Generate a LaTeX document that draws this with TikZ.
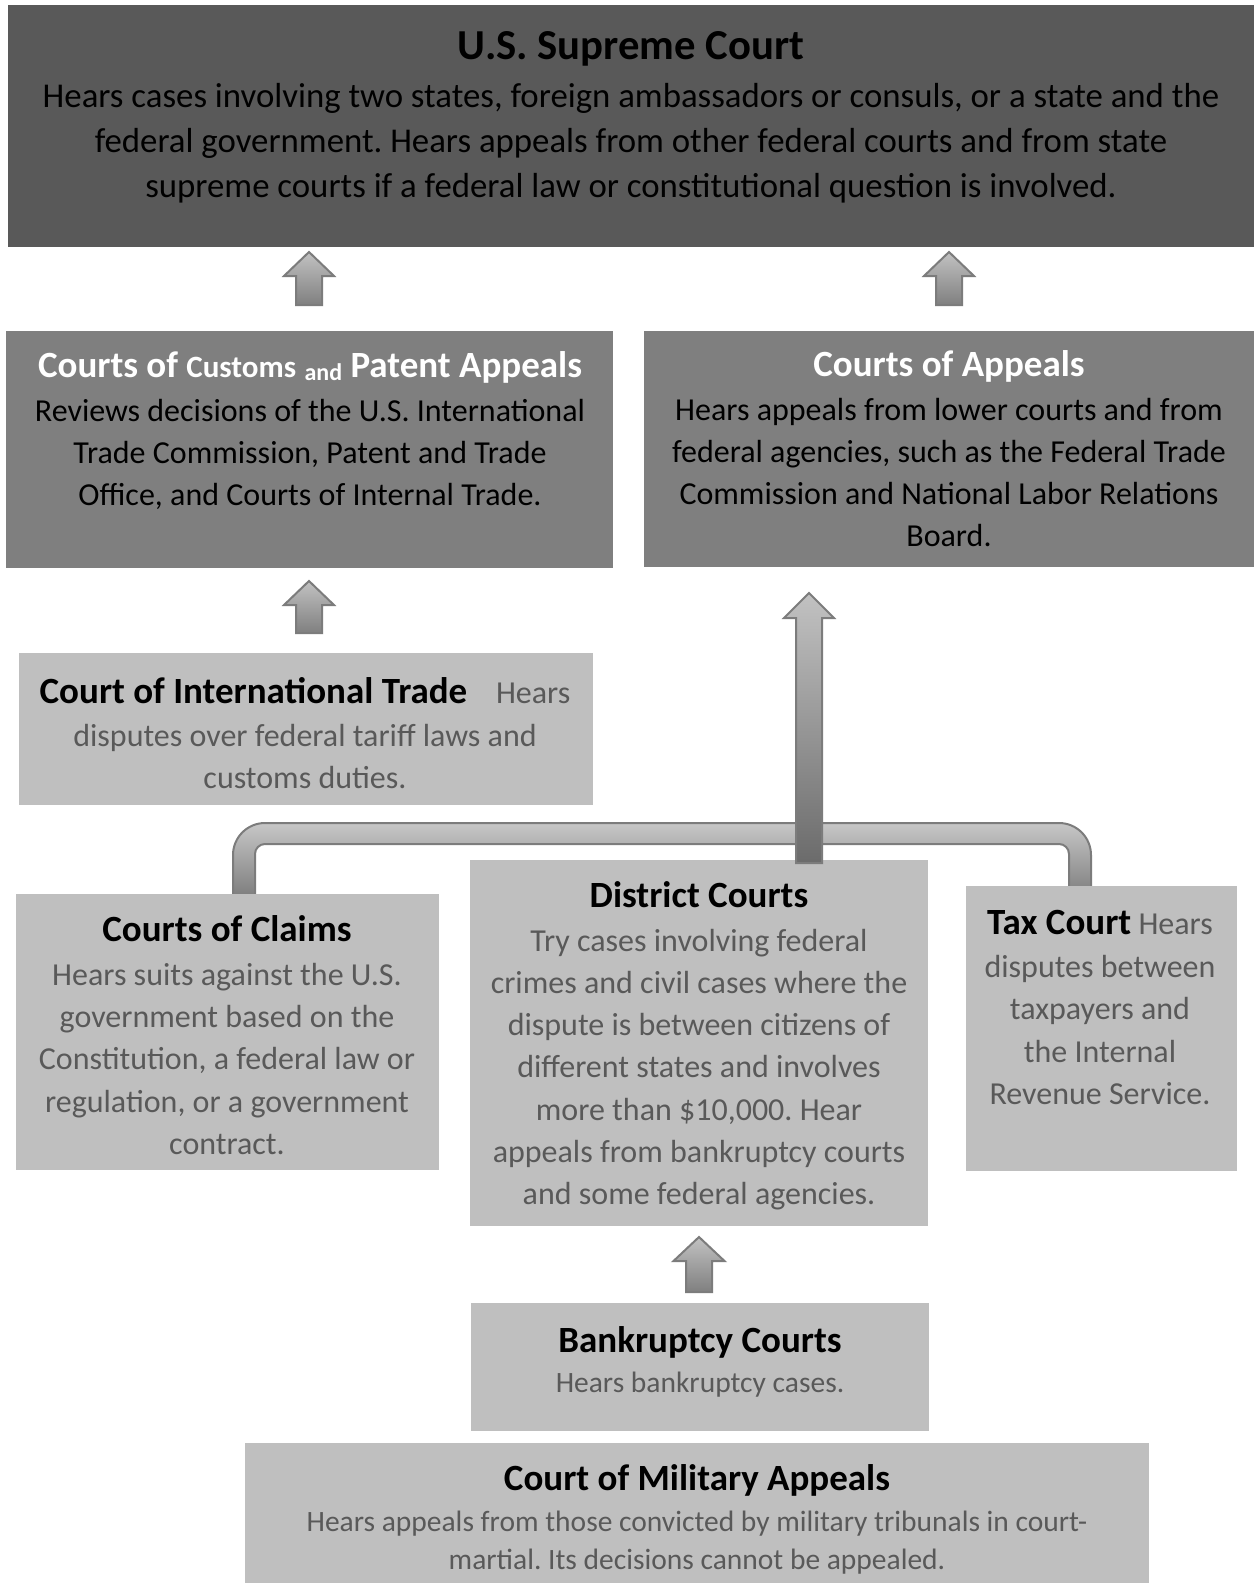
\documentclass[tikz,border=0pt]{standalone}
\usepackage{fontspec}
\setmainfont{Carlito}
\frenchspacing
\definecolor{dark}{HTML}{595959}
\definecolor{mid}{HTML}{7F7F7F}
\definecolor{light}{HTML}{BFBFBF}
\definecolor{soft}{HTML}{595959}
\definecolor{arrline}{HTML}{7C7C7C}
\newcommand{\fBody}[1][42]{\fontsize{32}{#1}\selectfont}
\newcommand{\fTitle}{\fontsize{37}{42}\selectfont\bfseries}
\newcommand{\uparr}[7]{% name, cx, tip, base, bottom, halfhead, halfshaft
  \path[blockarr] (#2,#3) coordinate (#1) -- (#2+#6,#4) -- (#2+#7,#4) -- (#2+#7,#5) -- (#2-#7,#5) -- (#2-#7,#4) -- (#2-#6,#4) -- cycle;}
\tikzset{
  box/.style={draw=none, inner sep=0, outer sep=0, anchor=north west},
  txt/.style={inner sep=0, outer sep=0, align=center, anchor=north},
  blockarr/.style={draw=arrline, line width=2pt, line join=miter, top color=#1, bottom color=black!50},
  blockarr/.default={black!24},
  tube/.style={draw=arrline, line width=2pt, top color=black!22, bottom color=black!52},
}
\begin{document}
\begin{tikzpicture}[x=1pt,y=-1pt]
\fill[white] (0,0) rectangle (1254,1583);
\useasboundingbox (0,0) rectangle (1254,1583);

% bracket tube
\path[tube] (233,900) -- (233,855) arc (180:270:32) -- (1059,823) arc (270:360:32) -- (1091,892) -- (1069,892) -- (1069,854) arc (0:-90:10) -- (265,844) arc (270:180:10) -- (255,900) -- cycle;

% boxes
\node[box, fill=dark, minimum width=1246pt, minimum height=242pt] (sup) at (8,5) {};
\node[box, fill=mid, minimum width=607pt, minimum height=237pt] (cust) at (6,331) {};
\node[box, fill=mid, minimum width=610pt, minimum height=236pt] (app) at (644,331) {};
\node[box, fill=light, minimum width=574pt, minimum height=152pt] (cit) at (19,653) {};
\node[box, fill=light, minimum width=423pt, minimum height=276pt] (cla) at (16,894) {};
\node[box, fill=light, minimum width=458pt, minimum height=366pt] (dis) at (470,860) {};
\node[box, fill=light, minimum width=271pt, minimum height=285pt] (tax) at (966,886) {};
\node[box, fill=light, minimum width=458pt, minimum height=128pt] (bnk) at (471,1303) {};
\node[box, fill=light, minimum width=904pt, minimum height=140pt] (mil) at (245,1443) {};

% arrows
\uparr{a1}{309}{252}{276}{305}{25}{13}
\uparr{a2}{949}{252}{276}{305}{25}{13}
\uparr{a3}{309}{581}{605}{633}{25}{13}
\uparr{a4}{699}{1237}{1261}{1292}{25.5}{13}
\path[blockarr, bottom color=black!58] (809,593) coordinate (a5) -- (834,618) -- (822,618) -- (822,863) -- (796,863) -- (796,618) -- (784,618) -- (809,593) -- cycle;

% texts
\node[txt, font=\fontsize{42.7}{46}\selectfont\bfseries] (supT) at (631,31) {U.S. Supreme Court};
\node[txt, font=\fontsize{34.8}{45.4}\selectfont] (supB) at (631,83) {Hears cases involving two states, foreign ambassadors or consuls, or a state and the\\ federal government. Hears appeals from other federal courts and from state\\ supreme courts if a federal law or constitutional question is involved.};

\node[txt, text=white] (custT) at (310,351.5) {\fTitle Courts of {\fontsize{31}{34}\selectfont Customs} \raisebox{-3pt}{\fontsize{24}{27}\selectfont and} Patent Appeals};
\node[txt, font=\fBody] (custB) at (310,399) {Reviews decisions of the U.S. International\\ Trade Commission, Patent and Trade\\ Office, and Courts of Internal Trade.};

\node[txt, text=white, font=\fTitle] (appT) at (949,350.5) {Courts of Appeals};
\node[txt, font=\fBody] (appB) at (949,398) {Hears appeals from lower courts and from\\ federal agencies, such as the Federal Trade\\ Commission and National Labor Relations\\ Board.};

\node[txt, text=soft, font={\fBody[42.5]}] (citB) at (305,677.5) {{\fTitle\color{black}Court of International Trade}\hspace{0.9em}Hears\\ disputes over federal tariff laws and\\ customs duties.};

\node[txt, font=\fTitle] (claT) at (227,915.5) {Courts of Claims};
\node[txt, text=soft, font={\fBody[42.3]}] (claB) at (227,963) {Hears suits against the U.S.\\ government based on the\\ Constitution, a federal law or\\ regulation, or a government\\ contract.};

\node[txt, font=\fTitle] (disT) at (699,881.5) {District Courts};
\node[txt, text=soft, font={\fBody[42.2]}] (disB) at (699,929) {Try cases involving federal\\ crimes and civil cases where the\\ dispute is between citizens of\\ different states and involves\\ more than \$10,000. Hear\\ appeals from bankruptcy courts\\ and some federal agencies.};

\node[txt, text=soft, font={\fBody[42.5]}] (taxB) at (1100,910.5) {{\fTitle\color{black}Tax Court} Hears\\ disputes between\\ taxpayers and\\ the Internal\\ Revenue Service.};

\node[txt, font=\fTitle] (bnkT) at (700,1326.5) {Bankruptcy Courts};
\node[txt, text=soft, font=\fontsize{29.5}{36}\selectfont] (bnkB) at (700,1372) {Hears bankruptcy cases.};

\node[txt, font=\fTitle] (milT) at (697,1464.5) {Court of Military Appeals};
\node[txt, text=soft, font=\fontsize{29.5}{38.4}\selectfont] (milB) at (697,1511) {Hears appeals from those convicted by military tribunals in court-\\ martial. Its decisions cannot be appealed.};
\end{tikzpicture}
\end{document}
